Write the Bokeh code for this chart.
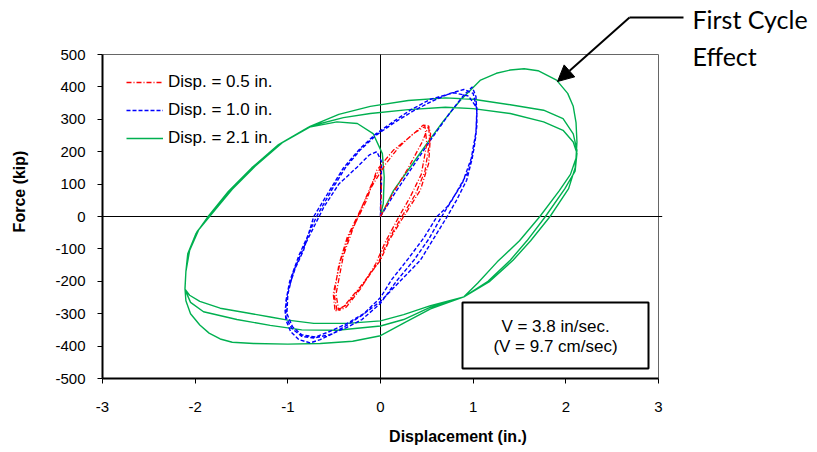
from bokeh.plotting import figure
from bokeh.models import (Legend, LegendItem, Label, Arrow, NormalHead,
                          BoxAnnotation, FixedTicker, Range1d, PrintfTickFormatter)
from bokeh.embed import file_html
from bokeh.resources import INLINE

# ---------------- data ----------------
x_ticks = [-3, -2, -1, 0, 1, 2, 3]
y_ticks = [-500, -400, -300, -200, -100, 0, 100, 200, 300, 400, 500]

series_labels = ["Disp. = 0.5 in.", "Disp. = 1.0 in.", "Disp. = 2.1 in."]

green_x = [0, 0.14, 0.32, 0.50, 0.68, 0.86, 1.08, 1.25, 1.40, 1.55, 1.70, 1.90, 2.02, 2.08, 2.11, 2.12, 2.11,
           2.05, 1.93, 1.72, 1.50, 1.26, 1.05, 0.90, 0.54, 0.27, 0.0, -0.30, -0.65, -1.0, -1.37, -1.60, -1.73,
           -1.85, -1.95, -2.05, -2.10, -2.11,
           -2.10, -2.07, -1.98, -1.84, -1.62, -1.37, -1.08, -0.76, -0.45, -0.11, 0.30, 0.70, 1.00, 1.40, 1.76,
           1.97, 2.08, 2.12,
           2.10, 2.03, 1.83, 1.62, 1.43, 1.18, 0.90, 0.54, 0.25, 0.0, -0.36, -0.72, -1.00, -1.19, -1.45, -1.73,
           -1.95, -2.06, -2.11,
           -2.10, -2.06, -1.96, -1.82, -1.60, -1.35, -1.06, -0.74, -0.40, -0.11, 0.30, 0.70, 1.00, 1.40, 1.76,
           1.97, 2.08, 2.12,
           2.10, 1.99, 1.78, 1.58, 1.40, 1.16, 0.90, 0.54, 0.25, 0.0, -0.47, -0.85, -1.19, -1.55, -1.91, -2.05,
           -2.11,
           -2.10, -2.08, -1.99, -1.86, -1.64, -1.39, -1.10, -0.78, -0.47, -0.25, -0.08, 0.02, 0.04, 0.03, 0.0]
green_y = [0, 80, 152, 225, 295, 358, 421, 442, 452, 456, 450, 421, 380, 340, 290, 230, 180,
           130, 80, 0, -75, -140, -205, -248, -285, -326, -368, -385, -392, -394, -392, -388, -378,
           -360, -335, -300, -260, -222,
           -170, -110, -47, 4, 81, 153, 225, 278, 315, 340, 358, 366, 362, 345, 328,
           302, 255, 205,
           150, 86, 0, -75, -135, -200, -248, -275, -303, -322, -330, -330, -320, -310, -297, -283,
           -262, -243, -224,
           -170, -105, -40, 8, 84, 156, 228, 280, 305, 318, 330, 337, 333, 318, 292,
           266, 230, 195,
           140, 86, 0, -75, -135, -200, -248, -280, -318, -338, -351, -350, -336, -318, -294, -265,
           -225,
           -170, -115, -52, 0, 78, 150, 222, 275, 292, 287, 256, 194, 122, 40, 5]

blue_x = [0, 0.15, 0.35, 0.55, 0.75, 0.90, 0.99,
          1.03, 1.04, 1.03, 0.99, 0.93, 0.82, 0.72, 0.58, 0.43, 0.21, 0.0, -0.20, -0.36, -0.52, -0.65, -0.76,
          -0.88, -0.97, -1.02, -1.03, -1.00, -0.92, -0.83, -0.72,
          -0.55, -0.40, -0.22, -0.05, 0.15, 0.32, 0.54, 0.79, 0.95, 1.04,
          1.04, 1.01, 0.95, 0.77, 0.66, 0.52, 0.36, 0.17, 0.0, -0.20, -0.36, -0.55, -0.72, -0.85, -0.96, -1.02,
          -1.02, -0.98, -0.88, -0.69,
          -0.52, -0.38, -0.22, -0.05, 0.15, 0.35, 0.55, 0.75, 0.90, 1.00, 1.04,
          1.03, 0.98, 0.88, 0.72, 0.61, 0.47, 0.30, 0.12, 0.0, -0.18, -0.36, -0.55, -0.70, -0.85, -0.95, -1.01,
          -1.00, -0.94, -0.82, -0.61,
          -0.45, -0.25, -0.12, -0.04, 0.01, 0.01, 0.0, 0.0]
blue_y = [0, 70, 155, 240, 320, 375, 400,
          370, 318, 250, 180, 112, 50, 0, -65, -135, -200, -262, -305, -335, -362, -380, -390,
          -380, -355, -320, -290, -230, -160, -104, 0,
          80, 150, 210, 255, 295, 328, 362, 382, 372, 335,
          280, 210, 140, 50, 0, -70, -135, -200, -268, -318, -342, -365, -375, -370, -345, -310,
          -260, -200, -120, 0,
          85, 150, 205, 250, 290, 325, 355, 380, 392, 380, 330,
          260, 180, 100, 30, 0, -65, -130, -195, -250, -300, -330, -355, -372, -365, -340, -300,
          -240, -170, -90, 30,
          100, 153, 190, 200, 170, 100, 30, 0]

red_x = [0, 0.14, 0.30, 0.45, 0.52,
         0.54, 0.52, 0.43, 0.25, 0.10, 0.0, -0.22, -0.40, -0.49,
         -0.51, -0.43, -0.33, -0.22, -0.15, -0.04, 0.14, 0.32, 0.46, 0.52,
         0.53, 0.48, 0.38, 0.23, 0.08, -0.02, -0.20, -0.38, -0.47,
         -0.50, -0.45, -0.36, -0.25, -0.10, 0.05, 0.20, 0.35, 0.48,
         0.50, 0.44, 0.32, 0.20, 0.05, -0.05, -0.22, -0.37, -0.45,
         -0.48, -0.40, -0.30, -0.20, -0.08, 0.0, 0.01, 0.0]
red_y = [0, 75, 150, 230, 280,
         256, 164, 81, 0, -70, -135, -217, -279, -292,
         -238, -135, -52, 9, 50, 143, 205, 246, 282, 280,
         230, 140, 70, 0, -75, -140, -215, -275, -288,
         -240, -150, -65, 0, 90, 160, 215, 255, 278,
         225, 130, 60, 0, -80, -145, -225, -280, -290,
         -240, -120, -40, 30, 110, 150, 80, 0]

# ---------------- layout: the frame is enlarged to the top-right so that the
# call-out (which lies outside the axes box) is not clipped ----------------
BOX_W, BOX_H = 556, 324          # size of the axes box in px
FRAME_W, FRAME_H = 711, 374      # frame incl. room for the call-out
x0, x1 = x_ticks[0], x_ticks[-1]
y0, y1 = y_ticks[0], y_ticks[-1]
x_end = x1 + (FRAME_W - BOX_W) * (x1 - x0) / BOX_W
y_end = y1 + (FRAME_H - BOX_H) * (y1 - y0) / BOX_H

p = figure(frame_width=FRAME_W, frame_height=FRAME_H, output_backend="svg", toolbar_location=None,
           x_range=Range1d(x0, x_end), y_range=Range1d(y0, y_end))
p.min_border_left = 102
p.min_border_right = 2
p.min_border_top = 4
p.min_border_bottom = 70
p.background_fill_color = "white"
p.border_fill_color = "white"
p.outline_line_color = None
p.xgrid.visible = False
p.ygrid.visible = False

for ax in (p.xaxis[0], p.yaxis[0]):
    ax.axis_line_width = 2
    ax.axis_line_color = "black"
    ax.major_tick_line_color = "black"
    ax.major_tick_line_width = 1
    ax.major_tick_out = 5
    ax.major_tick_in = 0
    ax.minor_tick_line_color = None
    ax.major_label_text_font = "Liberation Sans"
    ax.major_label_text_font_size = "15px"
    ax.major_label_text_color = "black"
    ax.axis_label_text_font = "Liberation Sans"
    ax.axis_label_text_font_size = "16px"
    ax.axis_label_text_font_style = "bold"
    ax.axis_label_text_color = "black"
    ax.formatter = PrintfTickFormatter(format="%d")

p.xaxis[0].ticker = FixedTicker(ticks=x_ticks)
p.yaxis[0].ticker = FixedTicker(ticks=y_ticks)
p.xaxis[0].bounds = (x0, x1)
p.yaxis[0].bounds = (y0, y1)
p.xaxis[0].axis_label = "Displacement (in.)"
p.yaxis[0].axis_label = "Force (kip)"
p.xaxis[0].major_label_standoff = 18
p.yaxis[0].major_label_standoff = 12
p.xaxis[0].axis_label_standoff = 13
p.yaxis[0].axis_label_standoff = 24

# grey box round the axes area (top and right edges visible)
p.add_layout(BoxAnnotation(left=x0, right=x1, bottom=y0, top=y1,
                           fill_alpha=0, line_color="#666666", line_alpha=1, line_width=1,
                           level="underlay"))
# zero lines
p.segment(x0=[x0, 0], y0=[0, y0], x1=[x1 + 0.04, 0], y1=[0, y1],
          line_color="black", line_width=1)

r_green = p.line(green_x, green_y, line_color="#00B050", line_width=1.4)
r_blue = p.line(blue_x, blue_y, line_color="#0000FF", line_width=1.4, line_dash="4 2")
r_red = p.line(red_x, red_y, line_color="#FF0000", line_width=1.3, line_dash="5 2 1 2")

legend = Legend(items=[LegendItem(label=series_labels[0], renderers=[r_red]),
                       LegendItem(label=series_labels[1], renderers=[r_blue]),
                       LegendItem(label=series_labels[2], renderers=[r_green])],
                location=(24, 230))
legend.padding = 0
legend.margin = 0
legend.spacing = 8
legend.glyph_width = 37
legend.glyph_height = 20
legend.label_height = 20
legend.label_standoff = 5
legend.label_text_font = "Liberation Sans"
legend.label_text_font_size = "17px"
legend.label_text_color = "black"
legend.border_line_color = None
legend.background_fill_alpha = 0
p.add_layout(legend, "center")

# text box (screen units, relative to the bottom-left of the frame)
p.add_layout(BoxAnnotation(left=360, right=546, bottom=10, top=76,
                           left_units="screen", right_units="screen",
                           bottom_units="screen", top_units="screen",
                           fill_color="white", fill_alpha=1,
                           line_color="black", line_alpha=1, line_width=2, level="overlay"))
p.add_layout(Label(x=453, y=52, x_units="screen", y_units="screen", text="V = 3.8 in/sec.",
                   text_align="center", text_baseline="middle", text_font="Liberation Sans",
                   text_font_size="17px", text_color="black", level="overlay"))
p.add_layout(Label(x=453, y=32, x_units="screen", y_units="screen", text="(V = 9.7 cm/sec)",
                   text_align="center", text_baseline="middle", text_font="Liberation Sans",
                   text_font_size="17px", text_color="black", level="overlay"))

# "First Cycle Effect" call-out
p.add_layout(Label(x=590, y=360, x_units="screen", y_units="screen", text="First Cycle",
                   text_align="left", text_baseline="alphabetic", text_font="Lato",
                   text_font_size="25px", text_color="black", level="overlay"))
p.add_layout(Label(x=590, y=323, x_units="screen", y_units="screen", text="Effect",
                   text_align="left", text_baseline="alphabetic", text_font="Lato",
                   text_font_size="25px", text_color="black", level="overlay"))
p.add_layout(Arrow(x_start=581, y_start=361, x_end=527, y_end=361,
                   start_units="screen", end_units="screen", end=None,
                   line_color="black", line_width=2, level="overlay"))
p.add_layout(Arrow(x_start=527, y_start=361, x_end=455, y_end=297,
                   start_units="screen", end_units="screen",
                   end=NormalHead(size=16, fill_color="black", line_color="black"),
                   line_color="black", line_width=2, level="overlay"))

open("out.html", "w").write(file_html(p, INLINE))
